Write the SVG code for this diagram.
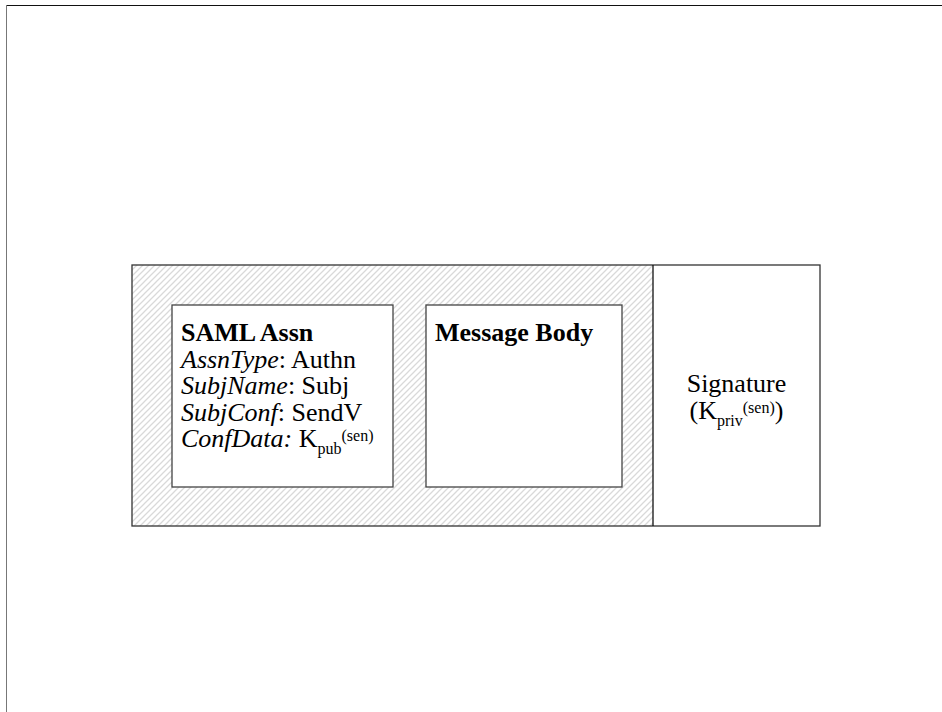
<svg xmlns="http://www.w3.org/2000/svg" width="942" height="712" viewBox="0 0 942 712">
  <defs>
    <!-- light diagonal hatching for the signed region -->
    <pattern id="hatch" patternUnits="userSpaceOnUse" width="6" height="6">
      <path d="M-1,1 l2,-2 M0,6 l6,-6 M5,7 l2,-2" stroke="#d9d9d9" stroke-width="1.3"/>
    </pattern>
  </defs>
  <style>
    .frame { fill: none; stroke: #333; stroke-width: 1.3; }
    .box { fill: #fff; stroke: #444; stroke-width: 1.3; }
    text { font-family: "Liberation Serif", "Times New Roman", serif; font-size: 26px; fill: #000; }
    .b { font-weight: bold; }
    .i { font-style: italic; }
    .sm { font-size: 16px; }
  </style>

  <rect width="942" height="712" fill="#fff"/>

  <!-- page edges -->
  <line x1="6" y1="5.5" x2="942" y2="5.5" stroke="#111" stroke-width="1"/>
  <line x1="6.5" y1="5" x2="6.5" y2="712" stroke="#777" stroke-width="1"/>

  <!-- signed message envelope -->
  <g id="envelope">
    <rect x="132" y="265" width="521" height="261" fill="url(#hatch)"/>
    <rect x="132" y="265" width="688" height="261" class="frame"/>
    <line x1="653" y1="265" x2="653" y2="526" stroke="#111" stroke-width="1.3"/>
  </g>

  <g id="saml-assertion">
    <rect x="172" y="305" width="221" height="182" class="box"/>
    <text x="181" y="341" class="b">SAML Assn</text>
    <text x="181" y="367.5"><tspan class="i">AssnType</tspan>: Authn</text>
    <text x="181" y="394"><tspan class="i">SubjName</tspan>: Subj</text>
    <text x="181" y="420.5"><tspan class="i">SubjConf</tspan>: SendV</text>
    <text x="181" y="447"><tspan class="i">ConfData:</tspan> K<tspan class="sm" dy="7">pub</tspan><tspan class="sm" dy="-13">(sen)</tspan></text>
  </g>

  <g id="message-body">
    <rect x="426" y="305" width="196" height="182" class="box"/>
    <text x="435" y="341" class="b">Message Body</text>
  </g>

  <g id="signature">
    <text x="736.5" y="392" text-anchor="middle">Signature</text>
    <text x="736.5" y="419" text-anchor="middle">(K<tspan class="sm" dy="7">priv</tspan><tspan class="sm" dy="-13">(sen)</tspan><tspan dy="6">)</tspan></text>
  </g>
</svg>
